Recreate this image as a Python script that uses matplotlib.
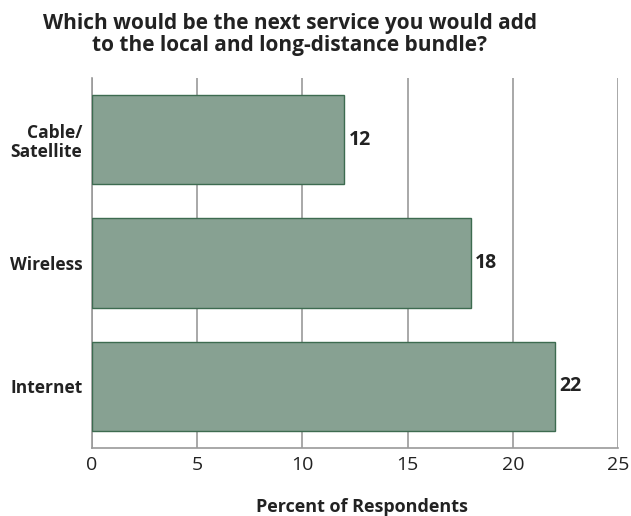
import matplotlib
matplotlib.use("Agg")
import matplotlib.pyplot as plt

# Umfragedaten
categories = ["Cable/\nSatellite", "Wireless", "Internet"]
values = [12, 18, 22]
xticks = [0, 5, 10, 15, 20, 25]

plt.rcParams['font.family'] = ['Open Sans', 'DejaVu Sans']

W, H = 631, 516
fig = plt.figure(figsize=(W / 100, H / 100), dpi=100)
ax = fig.add_axes([92 / W, 1 - 448 / H, (618 - 92) / W, (448 - 78) / H])

pos = list(range(len(categories)))
ax.barh(pos, values, height=0.725, color="#87a192", edgecolor="#3d6b50",
        linewidth=1.0, zorder=3)

# Werte rechts neben den Balken
for p, v in zip(pos, values):
    ax.text(v + 0.2, p, str(v), va="center", ha="left",
            fontsize=14, fontweight="bold", color="#222222")

ax.set_xlim(0, 25)
ax.set_ylim(2.5, -0.5)
ax.set_xticks(xticks)
ax.set_xticklabels([str(t) for t in xticks], fontsize=14, color="#222222")
ax.set_yticks(pos)
ax.set_yticklabels(categories, fontsize=12.5, fontweight="bold", color="#222222",
                   linespacing=1.1)
ax.tick_params(axis="both", length=0)
ax.tick_params(axis="x", pad=6)
ax.tick_params(axis="y", pad=7)

ax.grid(axis="x", color="#9a9a9a", linewidth=1.2, zorder=0)
ax.set_axisbelow(True)
for s in ["top", "right"]:
    ax.spines[s].set_visible(False)
for s in ["left", "bottom"]:
    ax.spines[s].set_color("#9a9a9a")
    ax.spines[s].set_linewidth(1.2)

ax.set_xlabel("Percent of Respondents", fontsize=13, fontweight="bold",
              color="#222222", va="baseline")
ax.xaxis.set_label_coords((362 - 92) / 526, (448 - 512) / 370)

fig.text(290 / W, 1 - 29 / H, "Which would be the next service you would add",
         ha="center", va="baseline", fontsize=15, fontweight="bold", color="#222222")
fig.text(290 / W, 1 - 51 / H, "to the local and long-distance bundle?",
         ha="center", va="baseline", fontsize=15, fontweight="bold", color="#222222")

fig.savefig("out.png", dpi=100)
